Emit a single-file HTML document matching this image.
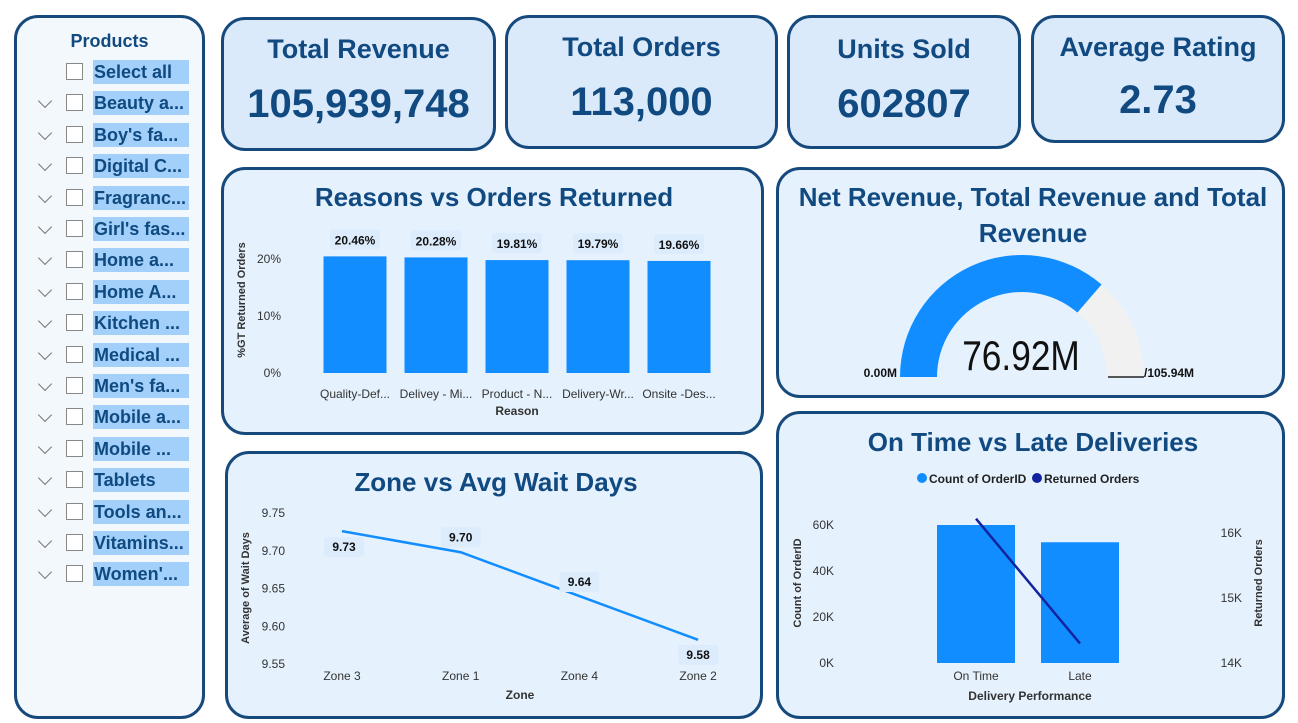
<!DOCTYPE html>
<html><head><meta charset="utf-8">
<style>
body{margin:0;width:1298px;height:723px;background:#fff;font-family:"Liberation Sans",sans-serif;position:relative;overflow:hidden}
.p{position:absolute;box-sizing:border-box;border:3px solid #174a7c;border-radius:24px;background:#e5f1fd}
.kpi{background:#dbeafb;text-align:center;color:#114a80;font-weight:bold}
.kpi .t{font-size:27px;margin-top:14px}
.kpi .v{font-size:40px;margin-top:17px}
svg text{font-family:"Liberation Sans",sans-serif}
.item{position:absolute;left:0;height:26px;width:190px}
.chev{position:absolute;left:23px;top:5px;width:9px;height:9px;border-right:1.5px solid #777;border-bottom:1.5px solid #777;transform:rotate(45deg)}
.cb{position:absolute;left:49px;top:3px;width:17px;height:17px;border:1.5px solid #888;background:#fff;box-sizing:border-box}
.lab{position:absolute;left:76px;top:0;width:95px;height:24px;background:#a3d0fb;color:#0f4a80;font-weight:bold;font-size:18px;line-height:24px;padding-left:1px;white-space:nowrap;overflow:hidden}
</style></head><body>
<div class="p" style="left:14px;top:15px;width:191px;height:704px;background:#f3f8fd">
 <div style="position:absolute;left:0;right:0;top:13px;text-align:center;color:#114a80;font-weight:bold;font-size:18px">Products</div>
 <div id="items"></div>
</div>
<div class="p kpi" style="left:221px;top:17px;width:275px;height:134px"><div class="t">Total Revenue</div><div class="v">105,939,748</div></div>
<div class="p kpi" style="left:505px;top:15px;width:273px;height:134px"><div class="t" style="margin-top:14px">Total Orders</div><div class="v">113,000</div></div>
<div class="p kpi" style="left:787px;top:15px;width:234px;height:134px"><div class="t" style="margin-top:16px">Units Sold</div><div class="v">602807</div></div>
<div class="p kpi" style="left:1031px;top:15px;width:254px;height:128px"><div class="t" style="margin-top:14px">Average Rating</div><div class="v" style="margin-top:15px">2.73</div></div>
<div class="p" style="left:221px;top:167px;width:543px;height:268px"></div>
<div class="p" style="left:776px;top:167px;width:509px;height:231px"></div>
<div class="p" style="left:225px;top:451px;width:538px;height:268px"></div>
<div class="p" style="left:776px;top:411px;width:509px;height:308px"></div>
<svg id="s" width="1298" height="723" style="position:absolute;left:0;top:0">
<text x="494" y="206" text-anchor="middle" font-size="26" font-weight="bold" fill="#114a80">Reasons vs Orders Returned</text>
<text x="1033" y="206" text-anchor="middle" font-size="26" font-weight="bold" fill="#114a80">Net Revenue, Total Revenue and Total</text>
<text x="1033" y="242" text-anchor="middle" font-size="26" font-weight="bold" fill="#114a80">Revenue</text>
<text x="496" y="491" text-anchor="middle" font-size="26" font-weight="bold" fill="#114a80">Zone vs Avg Wait Days</text>
<text x="1033" y="451" text-anchor="middle" font-size="26" font-weight="bold" fill="#114a80">On Time vs Late Deliveries</text>
<g id="g1"></g><g id="g2"></g><g id="g3"></g><g id="g4"></g>
</svg>
<script>
const products=["Select all","Beauty a...","Boy's fa...","Digital C...","Fragranc...","Girl's fas...","Home a...","Home A...","Kitchen ...","Medical ...","Men's fa...","Mobile a...","Mobile ...","Tablets","Tools an...","Vitamins...","Women'..."];
const reasons=["Quality-Def...","Delivey - Mi...","Product - N...","Delivery-Wr...","Onsite -Des..."];
const reasonVals=[20.46,20.28,19.81,19.79,19.66];
const reasonTicks=[0,10,20];
const zones=["Zone 3","Zone 1","Zone 4","Zone 2"];
const waitVals=[9.726,9.698,9.64,9.582];
const waitLabels=["9.73","9.70","9.64","9.58"];
const waitTicks=[9.55,9.60,9.65,9.70,9.75];
const gaugeValue=76.92;
const gaugeMax=105.94;
const delivCats=["On Time","Late"];
const delivCounts=[60,52.5];
const delivReturned=[16.22,14.3];
const countTicks=[0,20,40,60];
const retTicks=[14,15,16];

const NS="http://www.w3.org/2000/svg";
function el(p,tag,a,txt){const e=document.createElementNS(NS,tag);for(const k in a)e.setAttribute(k,a[k]);if(txt!=null)e.textContent=txt;p.appendChild(e);return e;}

const items=document.getElementById('items');
products.forEach((p,i)=>{
 const d=document.createElement('div');d.className='item';d.style.top=(42+i*31.4)+'px';
 
 
 d.innerHTML=(i?'<div class="chev"></div>':'')+'<div class="cb"></div><div class="lab">'+p+'</div>';
 items.appendChild(d);
});

const g1=document.getElementById('g1');
const y1=v=>373-v*5.7;
reasonTicks.forEach(t=>{const e=el(g1,'text',{x:281,y:y1(t)+4,'text-anchor':'end','font-size':12,fill:'#333'},t+'%');
 
 });
reasons.forEach((r,i)=>{
 const cx=355+i*81;
 const b=el(g1,'rect',{x:cx-31.5,y:y1(reasonVals[i]),width:63,height:373-y1(reasonVals[i]),fill:'#118dff'});
 
 
 el(g1,'rect',{x:cx-25,y:y1(reasonVals[i])-27,width:50,height:20,rx:3,fill:'#dcecfd'});
 const l=el(g1,'text',{x:cx,y:y1(reasonVals[i])-12,'text-anchor':'middle','font-size':12,'font-weight':'bold',fill:'#111'},reasonVals[i].toFixed(2)+'%');
 
 
 const x=el(g1,'text',{x:cx,y:398,'text-anchor':'middle','font-size':12,fill:'#333'},r);
 
 
});
el(g1,'text',{x:517,y:415,'text-anchor':'middle','font-size':12,'font-weight':'bold',fill:'#333'},'Reason');
el(g1,'text',{transform:'translate(245,300) rotate(-90)','text-anchor':'middle','font-size':11,'font-weight':'bold',fill:'#333'},'%GT Returned Orders');

const g2=document.getElementById('g2');
const gcx=1022,gcy=377,R=122,r=85;
function arc(a0,a1,c){const p=(a,rr)=>[gcx-rr*Math.cos(a),gcy-rr*Math.sin(a)];
 const [x0,y0]=p(a0,R),[x1,y1_]=p(a1,R),[x2,y2]=p(a1,r),[x3,y3]=p(a0,r);
 return el(g2,'path',{d:`M${x0},${y0} A${R},${R} 0 0 1 ${x1},${y1_} L${x2},${y2} A${r},${r} 0 0 0 ${x3},${y3} Z`,fill:c});}
const frac=gaugeValue/gaugeMax;
const bg=arc(frac*Math.PI,Math.PI,'#f1f1f1');


const fg=arc(0,frac*Math.PI,'#118dff');


el(g2,'text',{x:0,y:0,'text-anchor':'middle','font-size':42,fill:'#111',transform:'translate(1021,370) scale(0.84,1)'},gaugeValue.toFixed(2)+'M');
el(g2,'text',{x:897,y:377,'text-anchor':'end','font-size':12,'font-weight':'bold',fill:'#111'},'0.00M');
el(g2,'line',{x1:1108,y1:377,x2:1144,y2:377,stroke:'#222','stroke-width':1.5});
el(g2,'text',{x:1144,y:377,'font-size':12,'font-weight':'bold',fill:'#111'},'/'+gaugeMax.toFixed(2)+'M');

const g3=document.getElementById('g3');
const y3=v=>664-(v-9.55)*755;
const x3=i=>342+i*118.7;
waitTicks.forEach(t=>{const e=el(g3,'text',{x:285,y:y3(t)+4,'text-anchor':'end','font-size':12,fill:'#333'},t.toFixed(2));
 
 });
const ln=el(g3,'polyline',{points:waitVals.map((v,i)=>x3(i)+','+y3(v)).join(' '),fill:'none',stroke:'#118dff','stroke-width':2.5});


const offs=[16,-15,-14,15];
zones.forEach((z,i)=>{
 const ly=y3(waitVals[i])+offs[i];
 el(g3,'rect',{x:x3(i)-20+(i==0?2:0),y:ly-10,width:40,height:20,rx:3,fill:'#dcecfd'});
 const l=el(g3,'text',{x:x3(i)+(i==0?2:0),y:ly+4,'text-anchor':'middle','font-size':12,'font-weight':'bold',fill:'#111'},waitLabels[i]);
 
 
 const x=el(g3,'text',{x:x3(i),y:680,'text-anchor':'middle','font-size':12,fill:'#333'},z);
 
 
});
el(g3,'text',{x:520,y:699,'text-anchor':'middle','font-size':12,'font-weight':'bold',fill:'#333'},'Zone');
el(g3,'text',{transform:'translate(249,588) rotate(-90)','text-anchor':'middle','font-size':11,'font-weight':'bold',fill:'#333'},'Average of Wait Days');

const g4=document.getElementById('g4');
const yc=v=>663-v*2.3;
const yr=v=>663-(v-14)*65;
const xc=i=>976+i*104;
el(g4,'circle',{cx:922,cy:478,r:5,fill:'#118dff'});
el(g4,'text',{x:929,y:483,'font-size':12,'font-weight':'bold',fill:'#222'},'Count of OrderID');
el(g4,'circle',{cx:1037,cy:478,r:5,fill:'#12239e'});
el(g4,'text',{x:1044,y:483,'font-size':12,'font-weight':'bold',fill:'#222'},'Returned Orders');
countTicks.forEach(t=>{const e=el(g4,'text',{x:834,y:yc(t)+4,'text-anchor':'end','font-size':12,fill:'#333'},t+'K');
 
 });
retTicks.forEach(t=>{const e=el(g4,'text',{x:1242,y:yr(t)+4,'text-anchor':'end','font-size':12,fill:'#333'},t+'K');
 
 });
delivCats.forEach((c,i)=>{
 const b=el(g4,'rect',{x:xc(i)-39,y:yc(delivCounts[i]),width:78,height:663-yc(delivCounts[i]),fill:'#118dff'});
 
 
 const x=el(g4,'text',{x:xc(i),y:680,'text-anchor':'middle','font-size':12,fill:'#333'},c);
 
 
});
const rl=el(g4,'polyline',{points:delivReturned.map((v,i)=>xc(i)+','+yr(v)).join(' '),fill:'none',stroke:'#12239e','stroke-width':2.5});


el(g4,'text',{x:1030,y:700,'text-anchor':'middle','font-size':12,'font-weight':'bold',fill:'#333'},'Delivery Performance');
el(g4,'text',{transform:'translate(801,583) rotate(-90)','text-anchor':'middle','font-size':11,'font-weight':'bold',fill:'#333'},'Count of OrderID');
el(g4,'text',{transform:'translate(1262,583) rotate(-90)','text-anchor':'middle','font-size':11,'font-weight':'bold',fill:'#333'},'Returned Orders');
</script>
</body></html>
